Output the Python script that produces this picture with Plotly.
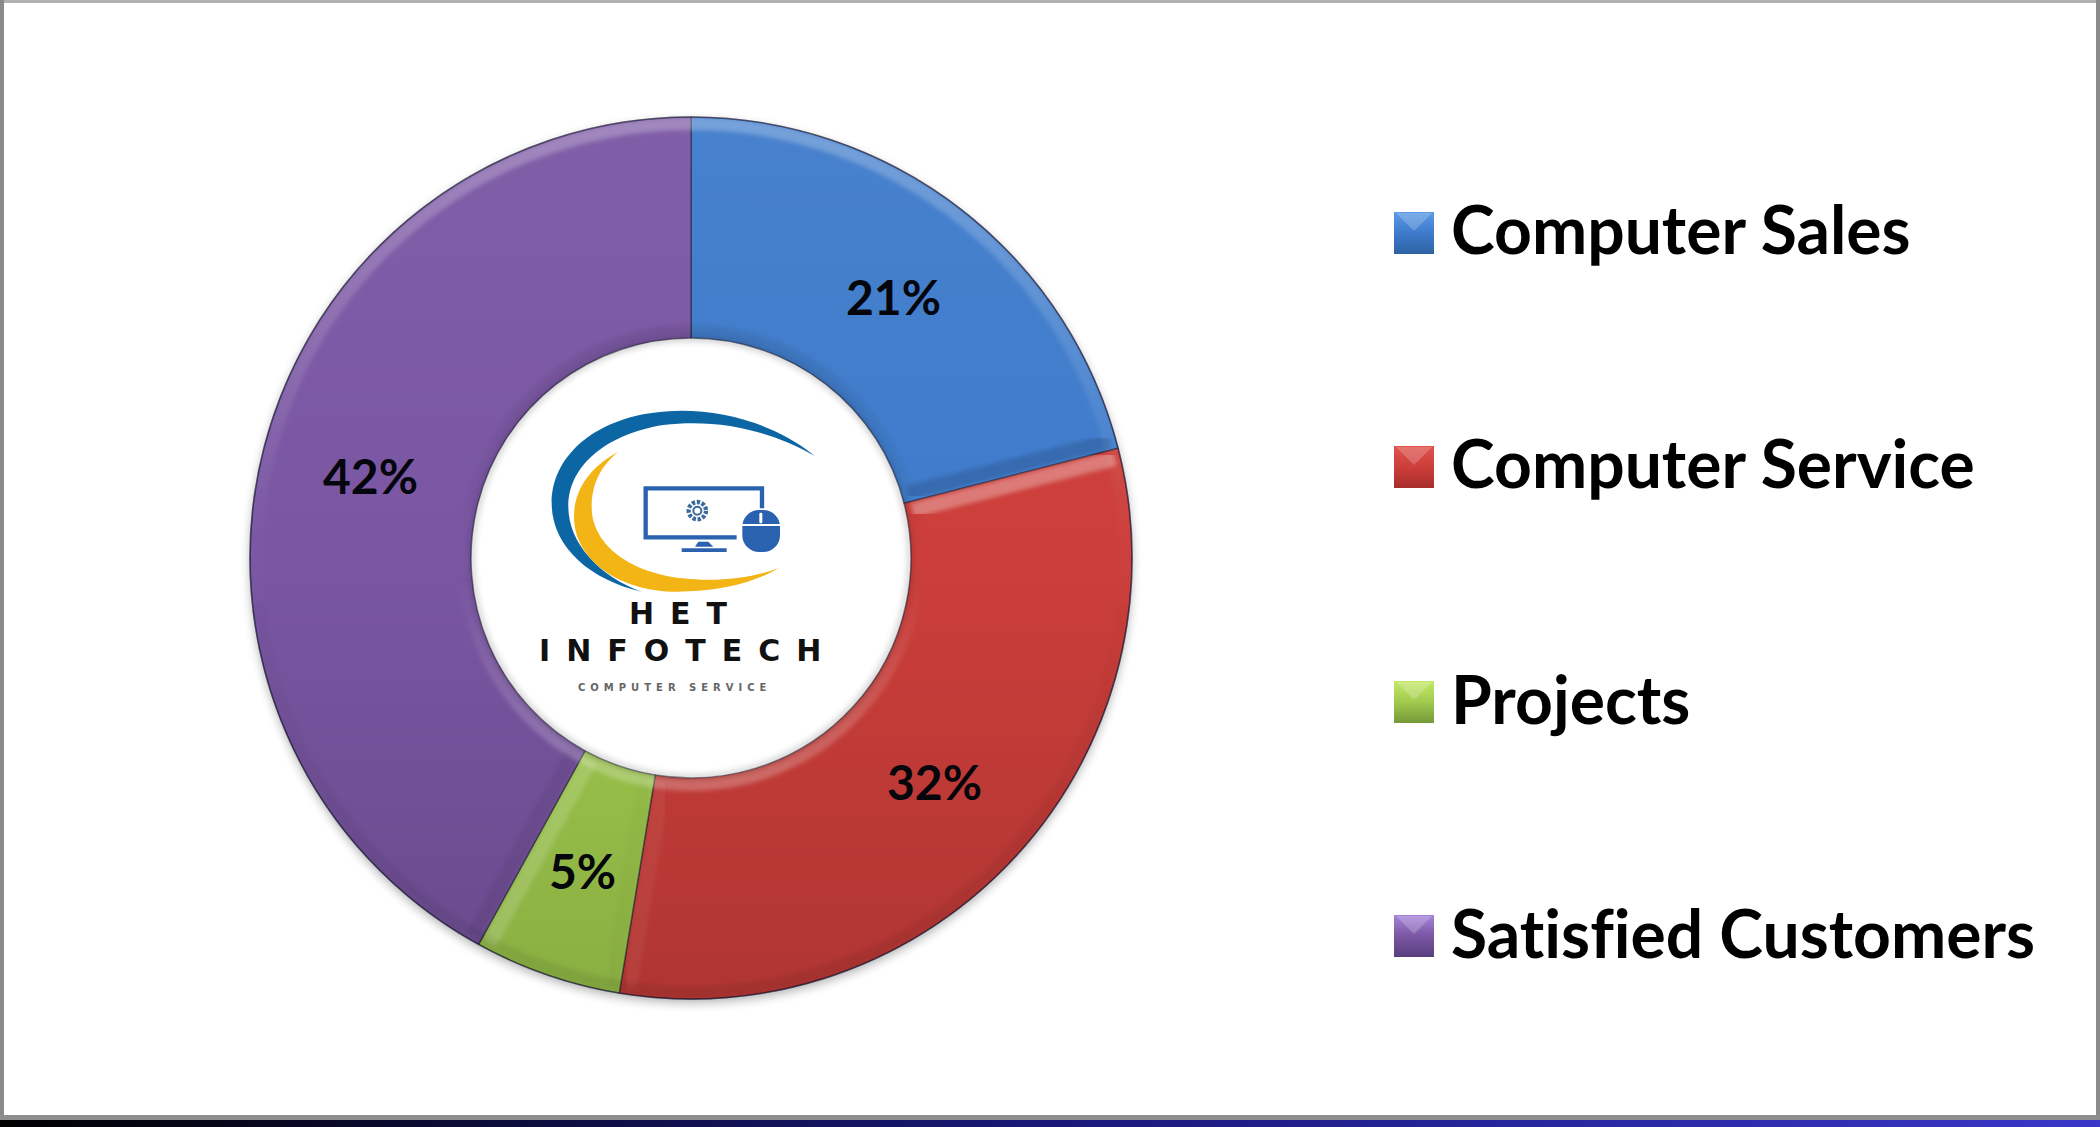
import base64
import math
import plotly.graph_objects as go

W, H = 2100, 1127

# Values (slice angles give slightly non-round shares)
categories = ['Computer Sales', 'Computer Service', 'Projects', 'Satisfied Customers']
shares = [21, 31.6, 5.4, 42]
slice_colors = ['#3E7BCB', '#CC3E3A', '#A0CB4D', '#7A56A3']
swatch_tops = ['#5B9BE6', '#E0524D', '#C4E868', '#A684DA']
swatch_bottoms = ['#2F62A4', '#A82E2B', '#76983A', '#5A3F80']
legend_y = [233, 467, 702, 936]

# Donut geometry in page pixels
CX, CY = 691, 558
R_OUT, R_IN = 441, 220


def ring(r1, r2):
    # annulus as an even-odd path
    def circle(r):
        return f'M{CX - r},{CY} a{r},{r} 0 1,0 {2 * r},0 a{r},{r} 0 1,0 {-2 * r},0 Z'
    return circle(r1) + ' ' + circle(r2)


def svg_uri(body):
    svg = f'<svg xmlns="http://www.w3.org/2000/svg" width="{W}" height="{H}" viewBox="0 0 {W} {H}">{body}</svg>'
    return 'data:image/svg+xml;base64,' + base64.b64encode(svg.encode()).decode()


# Soft shadow under the donut, hole kept white
under = f'''
<defs><filter id="b" x="-10%" y="-10%" width="120%" height="120%"><feGaussianBlur stdDeviation="5"/></filter></defs>
<circle cx="{CX}" cy="{CY + 4}" r="{R_OUT + 1}" fill="#000" opacity="0.25" filter="url(#b)"/>
<circle cx="{CX}" cy="{CY}" r="{R_IN + 4}" fill="#fff"/>
'''

# Swatches for the legend
swatch_defs = ''
swatches = ''
for i, y in enumerate(legend_y):
    swatch_defs += (f'<linearGradient id="s{i}" x1="0" y1="0" x2="0" y2="1">'
                    f'<stop offset="0" stop-color="{swatch_tops[i]}"/>'
                    f'<stop offset="0.5" stop-color="{slice_colors[i]}"/>'
                    f'<stop offset="1" stop-color="{swatch_bottoms[i]}"/></linearGradient>')
    swatches += f'<rect x="1394" y="{y - 21}" width="40" height="42" fill="url(#s{i})"/>'
    swatches += f'<path d="M1396,{y - 20} H1432 L1414,{y - 2} Z" fill="#fff" opacity="0.2"/>'

# Bevel along the straight slice edges, lit when the edge faces up
bevels = ''
turn = 0
pct_xy = []
total = sum(shares)
for share in shares:
    start = turn / total * 2 * math.pi
    end = (turn + share) / total * 2 * math.pi
    mid = (start + end) / 2
    r_mid = (R_OUT + R_IN) / 2
    pct_xy.append((CX + r_mid * math.sin(mid), CY - r_mid * math.cos(mid)))
    for a, side in ((start, 1), (end, -1)):
        nx, ny = side * math.cos(a), side * math.sin(a)
        x1 = CX + (R_IN + 6) * math.sin(a) + 9 * nx
        y1 = CY - (R_IN + 6) * math.cos(a) + 9 * ny
        x2 = CX + (R_OUT - 6) * math.sin(a) + 9 * nx
        y2 = CY - (R_OUT - 6) * math.cos(a) + 9 * ny
        tone = '#fff' if ny > 0 else '#000'
        strength = (0.32 if ny > 0 else 0.14) * abs(ny)
        bevels += (f'<line x1="{x1:.1f}" y1="{y1:.1f}" x2="{x2:.1f}" y2="{y2:.1f}" stroke="{tone}" '
                   f'stroke-opacity="{strength:.3f}" stroke-width="15" filter="url(#b3)"/>')
    turn += share

logo = '''
<g transform="translate(450,350) scale(0.33333)" filter="url(#soft)">
<path d="M1095,318 C950,200 750,165 600,190 C430,215 305,320 305,460 C305,590 420,690 575,725 C450,680 355,580 355,470 C355,340 480,250 640,225 C800,205 960,240 1095,318 Z" fill="#0F66A4"/>
<path d="M505,305 C420,350 372,420 372,500 C372,630 510,725 680,725 C800,725 910,700 985,655 C890,690 780,695 700,685 C550,670 425,590 425,470 C425,400 455,345 505,305 Z" fill="#F3B413"/>
<path d="M860,562 H587 V415 H936 V475" fill="none" stroke="#2B62B0" stroke-width="13"/>
<path d="M735,590 L745,575 H775 L790,590 Z M695,595 H830 V606 H695 Z" fill="#2B62B0"/>
<circle cx="742" cy="482" r="26" fill="none" stroke="#3A6A9C" stroke-width="13" stroke-dasharray="10 5"/>
<circle cx="742" cy="482" r="12" fill="none" stroke="#3A6A9C" stroke-width="6"/>
<rect x="877" y="480" width="113" height="126" rx="50" fill="#2B62B0"/>
<rect x="877" y="522" width="113" height="6" fill="#fff"/>
<rect x="928" y="488" width="9" height="32" rx="4" fill="#fff"/>
</g>
'''

# Bevel, light from above, frame, bottom strip and logo drawn over the pie
over = f'''
<defs>
<filter id="soft" x="-5%" y="-5%" width="110%" height="110%"><feGaussianBlur stdDeviation="1.6"/></filter>
<filter id="b2" x="-10%" y="-10%" width="120%" height="120%"><feGaussianBlur stdDeviation="3"/></filter>
<filter id="b3" x="-5%" y="-5%" width="110%" height="110%"><feGaussianBlur stdDeviation="2"/></filter>
<linearGradient id="shade" gradientUnits="userSpaceOnUse" x1="0" y1="{CY - R_OUT}" x2="0" y2="{CY + R_OUT}">
<stop offset="0" stop-color="#fff" stop-opacity="0.05"/><stop offset="0.5" stop-color="#fff" stop-opacity="0"/>
<stop offset="0.5" stop-color="#000" stop-opacity="0"/><stop offset="1" stop-color="#000" stop-opacity="0.14"/>
</linearGradient>
<linearGradient id="rimOut" gradientUnits="userSpaceOnUse" x1="0" y1="{CY - R_OUT}" x2="0" y2="{CY + R_OUT}">
<stop offset="0" stop-color="#fff" stop-opacity="0.26"/><stop offset="0.45" stop-color="#fff" stop-opacity="0.02"/>
<stop offset="0.6" stop-color="#000" stop-opacity="0.02"/><stop offset="1" stop-color="#000" stop-opacity="0.08"/>
</linearGradient>
<linearGradient id="rimIn" gradientUnits="userSpaceOnUse" x1="0" y1="{CY - R_IN}" x2="0" y2="{CY + R_IN}">
<stop offset="0" stop-color="#000" stop-opacity="0.08"/><stop offset="0.5" stop-color="#000" stop-opacity="0"/>
<stop offset="0.6" stop-color="#fff" stop-opacity="0.02"/><stop offset="1" stop-color="#fff" stop-opacity="0.24"/>
</linearGradient>
<linearGradient id="strip" x1="0" y1="0" x2="1" y2="0">
<stop offset="0" stop-color="#000"/><stop offset="0.5" stop-color="#181878"/><stop offset="1" stop-color="#3A36C8"/>
</linearGradient>
{swatch_defs}
</defs>
<path d="{ring(R_OUT, R_IN)}" fill="url(#shade)" fill-rule="evenodd"/>
{bevels}
<path d="{ring(R_OUT, R_OUT - 13)}" fill="url(#rimOut)" fill-rule="evenodd" filter="url(#b3)"/>
<path d="{ring(R_IN + 13, R_IN)}" fill="url(#rimIn)" fill-rule="evenodd" filter="url(#b3)"/>
<circle cx="{CX}" cy="{CY}" r="{R_OUT}" fill="none" stroke="#101030" stroke-opacity="0.4" stroke-width="1.5"/>
<circle cx="{CX}" cy="{CY}" r="{R_IN - 1}" fill="none" stroke="#000" stroke-opacity="0.3" stroke-width="3" filter="url(#b2)"/>
{logo}
{swatches}
<rect x="0" y="0" width="{W}" height="3" fill="#B0B0B0"/>
<rect x="0" y="0" width="4" height="{H}" fill="#8A8A8A"/>
<rect x="{W - 4}" y="0" width="4" height="{H}" fill="#8A8A8A"/>
<rect x="0" y="1115" width="{W}" height="5" fill="#8E8E8E"/>
<rect x="0" y="1120" width="{W}" height="7" fill="url(#strip)"/>
'''

fig = go.Figure(go.Pie(
    labels=categories,
    values=shares,
    sort=False,
    direction='clockwise',
    rotation=0,
    hole=R_IN / R_OUT,
    domain=dict(x=[(CX - R_OUT) / W, (CX + R_OUT) / W],
                y=[1 - (CY + R_OUT) / H, 1 - (CY - R_OUT) / H]),
    marker=dict(colors=slice_colors, line=dict(color='rgba(25,25,50,0.55)', width=1.5)),
    textinfo='none',
    showlegend=False,
))

annotations = []

# Percent labels at the middle of each slice
for share, (x, y) in zip(shares, pct_xy):
    annotations.append(dict(text=f'{round(share / total * 100)}%', x=x / W, y=1 - y / H,
                            xref='paper', yref='paper', xanchor='center', yanchor='middle', showarrow=False,
                            font=dict(family='Lato', size=48, color='#05050C', weight=700)))

# Legend text
for name, y in zip(categories, legend_y):
    annotations.append(dict(text=f'<span style="font-variant-ligatures:none">{name}</span>',
                            x=1449 / W, y=1 - (y - 4) / H, xref='paper', yref='paper',
                            xanchor='left', yanchor='middle', showarrow=False,
                            font=dict(family='Lato', size=66, color='#000', weight=700)))

# Logo lettering
logo_text = [('HET', 686, 613, 30, 16, '#111', 700),
             ('INFOTECH', 688, 650, 30, 16, '#111', 700),
             ('COMPUTER SERVICE', 674, 687, 10, 5, '#666', 700)]
for text, x, y, size, spacing, color, weight in logo_text:
    annotations.append(dict(text=f'<span style="letter-spacing:{spacing}px">{text}</span>',
                            x=x / W, y=1 - y / H, xref='paper', yref='paper',
                            xanchor='center', yanchor='middle', showarrow=False,
                            font=dict(family='DejaVu Sans', size=size, color=color, weight=weight)))

image_common = dict(xref='paper', yref='paper', x=0, y=1, sizex=1, sizey=1,
                    xanchor='left', yanchor='top', sizing='stretch')

fig.update_layout(
    width=W, height=H,
    margin=dict(l=0, r=0, t=0, b=0),
    paper_bgcolor='rgba(255,255,255,0)',
    plot_bgcolor='rgba(255,255,255,0)',
    annotations=annotations,
    images=[dict(source=svg_uri(under), layer='below', **image_common),
            dict(source=svg_uri(over), layer='above', **image_common)],
)

fig.write_html('out.html', config=dict(displayModeBar=False),
               post_script="document.body.style.margin='0';document.body.style.background='#fff';")
